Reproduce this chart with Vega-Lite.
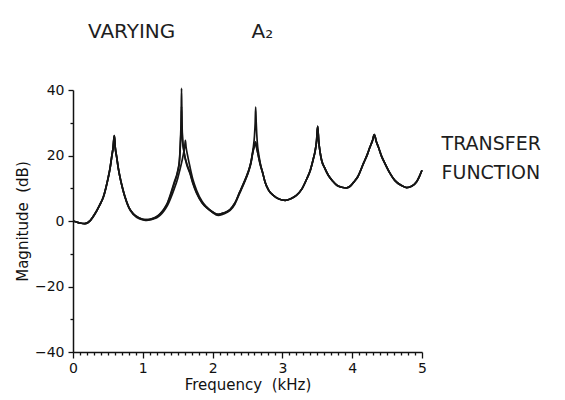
{
  "$schema": "https://vega.github.io/schema/vega-lite/v6.json",
  "autosize": "none",
  "width": 349,
  "height": 262,
  "padding": {"left": 73, "top": 90, "right": 143, "bottom": 48},
  "background": "white",
  "title": {
    "text": "VARYING\u00a0\u00a0\u00a0\u00a0\u00a0\u00a0\u00a0\u00a0\u00a0\u00a0\u00a0\u00a0A₂",
    "anchor": "start",
    "frame": "group",
    "font": "DejaVu Sans",
    "fontSize": 20,
    "fontWeight": "normal",
    "color": "#1e1e1e",
    "dx": 15,
    "offset": 41
  },
  "config": {
    "view": {"stroke": null},
    "axis": {
      "grid": false,
      "domainColor": "#111",
      "domainWidth": 1.5,
      "tickColor": "#111",
      "tickWidth": 1.3,
      "labelColor": "#111",
      "titleColor": "#111",
      "labelFont": "DejaVu Sans",
      "titleFont": "DejaVu Sans",
      "labelFontSize": 14,
      "titleFontSize": 15,
      "titleFontWeight": "normal"
    }
  },
  "resolve": {"axis": {"x": "independent", "y": "independent"}},
  "layer": [
    {
      "data": {
        "values": [
          {"curve": "a", "freq": 0, "mag": 0},
          {"curve": "a", "freq": 0.05, "mag": -0.3},
          {"curve": "a", "freq": 0.1, "mag": -0.6},
          {"curve": "a", "freq": 0.17, "mag": -0.8},
          {"curve": "a", "freq": 0.25, "mag": 0.2},
          {"curve": "a", "freq": 0.315, "mag": 2.2},
          {"curve": "a", "freq": 0.38, "mag": 4.8},
          {"curve": "a", "freq": 0.435, "mag": 7.3},
          {"curve": "a", "freq": 0.47, "mag": 10},
          {"curve": "a", "freq": 0.506, "mag": 13.4},
          {"curve": "a", "freq": 0.53, "mag": 16},
          {"curve": "a", "freq": 0.554, "mag": 19.5},
          {"curve": "a", "freq": 0.575, "mag": 22.5},
          {"curve": "a", "freq": 0.592, "mag": 26.1},
          {"curve": "a", "freq": 0.605, "mag": 22.5},
          {"curve": "a", "freq": 0.626, "mag": 19.5},
          {"curve": "a", "freq": 0.65, "mag": 16},
          {"curve": "a", "freq": 0.673, "mag": 13.4},
          {"curve": "a", "freq": 0.71, "mag": 10},
          {"curve": "a", "freq": 0.745, "mag": 7.3},
          {"curve": "a", "freq": 0.8, "mag": 4.2},
          {"curve": "a", "freq": 0.864, "mag": 2.2},
          {"curve": "a", "freq": 0.95, "mag": 0.9},
          {"curve": "a", "freq": 1.0, "mag": 0.5},
          {"curve": "a", "freq": 1.056, "mag": 0.4},
          {"curve": "a", "freq": 1.1, "mag": 0.5},
          {"curve": "a", "freq": 1.15, "mag": 0.8},
          {"curve": "a", "freq": 1.2, "mag": 1.4},
          {"curve": "a", "freq": 1.246, "mag": 2.2},
          {"curve": "a", "freq": 1.3, "mag": 3.6},
          {"curve": "a", "freq": 1.35, "mag": 5.4},
          {"curve": "a", "freq": 1.4, "mag": 8.4},
          {"curve": "a", "freq": 1.45, "mag": 11.8},
          {"curve": "a", "freq": 1.5, "mag": 15.3},
          {"curve": "a", "freq": 1.525, "mag": 18.5},
          {"curve": "a", "freq": 1.54, "mag": 25},
          {"curve": "a", "freq": 1.55, "mag": 32},
          {"curve": "a", "freq": 1.555, "mag": 40.5},
          {"curve": "a", "freq": 1.56, "mag": 32},
          {"curve": "a", "freq": 1.57, "mag": 25},
          {"curve": "a", "freq": 1.585, "mag": 22},
          {"curve": "a", "freq": 1.6, "mag": 20},
          {"curve": "a", "freq": 1.63, "mag": 17.5},
          {"curve": "a", "freq": 1.676, "mag": 14.8},
          {"curve": "a", "freq": 1.72, "mag": 11.5},
          {"curve": "a", "freq": 1.77, "mag": 8.7},
          {"curve": "a", "freq": 1.85, "mag": 5.6},
          {"curve": "a", "freq": 1.92, "mag": 4},
          {"curve": "a", "freq": 2.0, "mag": 2.8},
          {"curve": "a", "freq": 2.08, "mag": 2.0},
          {"curve": "a", "freq": 2.15, "mag": 2.4},
          {"curve": "a", "freq": 2.25, "mag": 3.5},
          {"curve": "a", "freq": 2.32, "mag": 5.5},
          {"curve": "a", "freq": 2.39, "mag": 8.9},
          {"curve": "a", "freq": 2.45, "mag": 11.8},
          {"curve": "a", "freq": 2.51, "mag": 15},
          {"curve": "a", "freq": 2.55, "mag": 18},
          {"curve": "a", "freq": 2.58, "mag": 21.5},
          {"curve": "a", "freq": 2.6, "mag": 23},
          {"curve": "a", "freq": 2.617, "mag": 24},
          {"curve": "a", "freq": 2.63, "mag": 22.5},
          {"curve": "a", "freq": 2.65, "mag": 20.5},
          {"curve": "a", "freq": 2.68, "mag": 17.5},
          {"curve": "a", "freq": 2.72, "mag": 14.5},
          {"curve": "a", "freq": 2.75, "mag": 12},
          {"curve": "a", "freq": 2.8, "mag": 9.5},
          {"curve": "a", "freq": 2.87, "mag": 7.8},
          {"curve": "a", "freq": 2.95, "mag": 6.7},
          {"curve": "a", "freq": 3.04, "mag": 6.3},
          {"curve": "a", "freq": 3.12, "mag": 6.8},
          {"curve": "a", "freq": 3.2, "mag": 7.8},
          {"curve": "a", "freq": 3.28, "mag": 9.8},
          {"curve": "a", "freq": 3.35, "mag": 12.9},
          {"curve": "a", "freq": 3.4, "mag": 15.5},
          {"curve": "a", "freq": 3.44, "mag": 18.7},
          {"curve": "a", "freq": 3.47, "mag": 21.5},
          {"curve": "a", "freq": 3.49, "mag": 24.5},
          {"curve": "a", "freq": 3.505, "mag": 28.9},
          {"curve": "a", "freq": 3.52, "mag": 24.5},
          {"curve": "a", "freq": 3.54, "mag": 21},
          {"curve": "a", "freq": 3.56, "mag": 18.7},
          {"curve": "a", "freq": 3.61, "mag": 16},
          {"curve": "a", "freq": 3.66, "mag": 13.9},
          {"curve": "a", "freq": 3.72, "mag": 12.2},
          {"curve": "a", "freq": 3.78, "mag": 10.9},
          {"curve": "a", "freq": 3.85, "mag": 10.3},
          {"curve": "a", "freq": 3.92, "mag": 10.1},
          {"curve": "a", "freq": 3.97, "mag": 10.6},
          {"curve": "a", "freq": 4.02, "mag": 11.8},
          {"curve": "a", "freq": 4.08, "mag": 13.5},
          {"curve": "a", "freq": 4.16, "mag": 17.5},
          {"curve": "a", "freq": 4.22, "mag": 20.5},
          {"curve": "a", "freq": 4.255, "mag": 22.6},
          {"curve": "a", "freq": 4.29, "mag": 24.5},
          {"curve": "a", "freq": 4.317, "mag": 26.4},
          {"curve": "a", "freq": 4.345, "mag": 24.3},
          {"curve": "a", "freq": 4.375, "mag": 22.6},
          {"curve": "a", "freq": 4.42, "mag": 19.8},
          {"curve": "a", "freq": 4.47, "mag": 17.5},
          {"curve": "a", "freq": 4.54, "mag": 14.6},
          {"curve": "a", "freq": 4.61, "mag": 12.4},
          {"curve": "a", "freq": 4.7, "mag": 10.9},
          {"curve": "a", "freq": 4.78, "mag": 10.2},
          {"curve": "a", "freq": 4.85, "mag": 10.6},
          {"curve": "a", "freq": 4.92, "mag": 11.9},
          {"curve": "a", "freq": 4.96, "mag": 13.5},
          {"curve": "a", "freq": 5.0, "mag": 15.5},

          {"curve": "b", "freq": 0, "mag": 0},
          {"curve": "b", "freq": 0.05, "mag": -0.3},
          {"curve": "b", "freq": 0.1, "mag": -0.6},
          {"curve": "b", "freq": 0.17, "mag": -0.8},
          {"curve": "b", "freq": 0.25, "mag": 0.2},
          {"curve": "b", "freq": 0.315, "mag": 2.2},
          {"curve": "b", "freq": 0.38, "mag": 4.8},
          {"curve": "b", "freq": 0.435, "mag": 7.3},
          {"curve": "b", "freq": 0.47, "mag": 10},
          {"curve": "b", "freq": 0.506, "mag": 13.4},
          {"curve": "b", "freq": 0.53, "mag": 16},
          {"curve": "b", "freq": 0.554, "mag": 19.5},
          {"curve": "b", "freq": 0.575, "mag": 22.5},
          {"curve": "b", "freq": 0.592, "mag": 26.1},
          {"curve": "b", "freq": 0.605, "mag": 22.5},
          {"curve": "b", "freq": 0.626, "mag": 19.5},
          {"curve": "b", "freq": 0.65, "mag": 16},
          {"curve": "b", "freq": 0.673, "mag": 13.4},
          {"curve": "b", "freq": 0.71, "mag": 10},
          {"curve": "b", "freq": 0.745, "mag": 7.3},
          {"curve": "b", "freq": 0.8, "mag": 4.2},
          {"curve": "b", "freq": 0.864, "mag": 2.2},
          {"curve": "b", "freq": 0.95, "mag": 0.9},
          {"curve": "b", "freq": 1.0, "mag": 0.5},
          {"curve": "b", "freq": 1.056, "mag": 0.4},
          {"curve": "b", "freq": 1.1, "mag": 0.5},
          {"curve": "b", "freq": 1.15, "mag": 0.8},
          {"curve": "b", "freq": 1.2, "mag": 1.3},
          {"curve": "b", "freq": 1.246, "mag": 2.1},
          {"curve": "b", "freq": 1.3, "mag": 3.4},
          {"curve": "b", "freq": 1.35, "mag": 5.2},
          {"curve": "b", "freq": 1.4, "mag": 8.0},
          {"curve": "b", "freq": 1.45, "mag": 11.4},
          {"curve": "b", "freq": 1.5, "mag": 15.0},
          {"curve": "b", "freq": 1.525, "mag": 18.3},
          {"curve": "b", "freq": 1.54, "mag": 24},
          {"curve": "b", "freq": 1.55, "mag": 29.5},
          {"curve": "b", "freq": 1.555, "mag": 35},
          {"curve": "b", "freq": 1.56, "mag": 29.5},
          {"curve": "b", "freq": 1.57, "mag": 24.5},
          {"curve": "b", "freq": 1.585, "mag": 21.8},
          {"curve": "b", "freq": 1.6, "mag": 19.8},
          {"curve": "b", "freq": 1.63, "mag": 17.2},
          {"curve": "b", "freq": 1.676, "mag": 14.5},
          {"curve": "b", "freq": 1.72, "mag": 11.3},
          {"curve": "b", "freq": 1.77, "mag": 8.5},
          {"curve": "b", "freq": 1.85, "mag": 5.5},
          {"curve": "b", "freq": 1.92, "mag": 3.9},
          {"curve": "b", "freq": 2.0, "mag": 2.7},
          {"curve": "b", "freq": 2.08, "mag": 2.0},
          {"curve": "b", "freq": 2.15, "mag": 2.4},
          {"curve": "b", "freq": 2.25, "mag": 3.5},
          {"curve": "b", "freq": 2.32, "mag": 5.5},
          {"curve": "b", "freq": 2.39, "mag": 8.9},
          {"curve": "b", "freq": 2.45, "mag": 11.8},
          {"curve": "b", "freq": 2.51, "mag": 15},
          {"curve": "b", "freq": 2.55, "mag": 18},
          {"curve": "b", "freq": 2.58, "mag": 22},
          {"curve": "b", "freq": 2.6, "mag": 26},
          {"curve": "b", "freq": 2.61, "mag": 30},
          {"curve": "b", "freq": 2.617, "mag": 34.8},
          {"curve": "b", "freq": 2.625, "mag": 30},
          {"curve": "b", "freq": 2.64, "mag": 24},
          {"curve": "b", "freq": 2.66, "mag": 20.5},
          {"curve": "b", "freq": 2.68, "mag": 18},
          {"curve": "b", "freq": 2.72, "mag": 14.5},
          {"curve": "b", "freq": 2.75, "mag": 12},
          {"curve": "b", "freq": 2.8, "mag": 9.5},
          {"curve": "b", "freq": 2.87, "mag": 7.8},
          {"curve": "b", "freq": 2.95, "mag": 6.7},
          {"curve": "b", "freq": 3.04, "mag": 6.3},
          {"curve": "b", "freq": 3.12, "mag": 6.8},
          {"curve": "b", "freq": 3.2, "mag": 7.8},
          {"curve": "b", "freq": 3.28, "mag": 9.8},
          {"curve": "b", "freq": 3.35, "mag": 12.9},
          {"curve": "b", "freq": 3.4, "mag": 15.5},
          {"curve": "b", "freq": 3.44, "mag": 18.7},
          {"curve": "b", "freq": 3.47, "mag": 21.5},
          {"curve": "b", "freq": 3.49, "mag": 24.5},
          {"curve": "b", "freq": 3.505, "mag": 28.9},
          {"curve": "b", "freq": 3.52, "mag": 24.5},
          {"curve": "b", "freq": 3.54, "mag": 21},
          {"curve": "b", "freq": 3.56, "mag": 18.7},
          {"curve": "b", "freq": 3.61, "mag": 16},
          {"curve": "b", "freq": 3.66, "mag": 13.9},
          {"curve": "b", "freq": 3.72, "mag": 12.2},
          {"curve": "b", "freq": 3.78, "mag": 10.9},
          {"curve": "b", "freq": 3.85, "mag": 10.3},
          {"curve": "b", "freq": 3.92, "mag": 10.1},
          {"curve": "b", "freq": 3.97, "mag": 10.6},
          {"curve": "b", "freq": 4.02, "mag": 11.8},
          {"curve": "b", "freq": 4.08, "mag": 13.5},
          {"curve": "b", "freq": 4.16, "mag": 17.5},
          {"curve": "b", "freq": 4.22, "mag": 20.5},
          {"curve": "b", "freq": 4.255, "mag": 22.6},
          {"curve": "b", "freq": 4.29, "mag": 24.5},
          {"curve": "b", "freq": 4.317, "mag": 26.4},
          {"curve": "b", "freq": 4.345, "mag": 24.3},
          {"curve": "b", "freq": 4.375, "mag": 22.6},
          {"curve": "b", "freq": 4.42, "mag": 19.8},
          {"curve": "b", "freq": 4.47, "mag": 17.5},
          {"curve": "b", "freq": 4.54, "mag": 14.6},
          {"curve": "b", "freq": 4.61, "mag": 12.4},
          {"curve": "b", "freq": 4.7, "mag": 10.9},
          {"curve": "b", "freq": 4.78, "mag": 10.2},
          {"curve": "b", "freq": 4.85, "mag": 10.6},
          {"curve": "b", "freq": 4.92, "mag": 11.9},
          {"curve": "b", "freq": 4.96, "mag": 13.5},
          {"curve": "b", "freq": 5.0, "mag": 15.5},

          {"curve": "c", "freq": 0, "mag": 0},
          {"curve": "c", "freq": 0.05, "mag": -0.3},
          {"curve": "c", "freq": 0.1, "mag": -0.6},
          {"curve": "c", "freq": 0.17, "mag": -0.8},
          {"curve": "c", "freq": 0.25, "mag": 0.2},
          {"curve": "c", "freq": 0.315, "mag": 2.2},
          {"curve": "c", "freq": 0.38, "mag": 4.8},
          {"curve": "c", "freq": 0.435, "mag": 7.3},
          {"curve": "c", "freq": 0.47, "mag": 10},
          {"curve": "c", "freq": 0.506, "mag": 13.4},
          {"curve": "c", "freq": 0.53, "mag": 16},
          {"curve": "c", "freq": 0.554, "mag": 19.5},
          {"curve": "c", "freq": 0.575, "mag": 22.5},
          {"curve": "c", "freq": 0.592, "mag": 26.1},
          {"curve": "c", "freq": 0.605, "mag": 22.5},
          {"curve": "c", "freq": 0.626, "mag": 19.5},
          {"curve": "c", "freq": 0.65, "mag": 16},
          {"curve": "c", "freq": 0.673, "mag": 13.4},
          {"curve": "c", "freq": 0.71, "mag": 10},
          {"curve": "c", "freq": 0.745, "mag": 7.3},
          {"curve": "c", "freq": 0.8, "mag": 4.0},
          {"curve": "c", "freq": 0.864, "mag": 2.0},
          {"curve": "c", "freq": 0.95, "mag": 0.7},
          {"curve": "c", "freq": 1.0, "mag": 0.4},
          {"curve": "c", "freq": 1.056, "mag": 0.2},
          {"curve": "c", "freq": 1.1, "mag": 0.3},
          {"curve": "c", "freq": 1.15, "mag": 0.6},
          {"curve": "c", "freq": 1.2, "mag": 1.0},
          {"curve": "c", "freq": 1.25, "mag": 1.8},
          {"curve": "c", "freq": 1.3, "mag": 3.0},
          {"curve": "c", "freq": 1.35, "mag": 4.6},
          {"curve": "c", "freq": 1.4, "mag": 7.0},
          {"curve": "c", "freq": 1.45, "mag": 9.8},
          {"curve": "c", "freq": 1.5, "mag": 13.0},
          {"curve": "c", "freq": 1.53, "mag": 15.5},
          {"curve": "c", "freq": 1.56, "mag": 18.2},
          {"curve": "c", "freq": 1.585, "mag": 20.8},
          {"curve": "c", "freq": 1.6, "mag": 22.6},
          {"curve": "c", "freq": 1.61, "mag": 24.6},
          {"curve": "c", "freq": 1.62, "mag": 22.6},
          {"curve": "c", "freq": 1.64, "mag": 20.2},
          {"curve": "c", "freq": 1.676, "mag": 16.5},
          {"curve": "c", "freq": 1.72, "mag": 12.5},
          {"curve": "c", "freq": 1.77, "mag": 9.4},
          {"curve": "c", "freq": 1.85, "mag": 6.0},
          {"curve": "c", "freq": 1.915, "mag": 4.3},
          {"curve": "c", "freq": 2.0, "mag": 2.6},
          {"curve": "c", "freq": 2.08, "mag": 1.7},
          {"curve": "c", "freq": 2.15, "mag": 2.1},
          {"curve": "c", "freq": 2.25, "mag": 3.2},
          {"curve": "c", "freq": 2.32, "mag": 5.2},
          {"curve": "c", "freq": 2.39, "mag": 8.6},
          {"curve": "c", "freq": 2.45, "mag": 11.5},
          {"curve": "c", "freq": 2.51, "mag": 14.7},
          {"curve": "c", "freq": 2.55, "mag": 17.7},
          {"curve": "c", "freq": 2.58, "mag": 21.3},
          {"curve": "c", "freq": 2.6, "mag": 23},
          {"curve": "c", "freq": 2.613, "mag": 24.2},
          {"curve": "c", "freq": 2.63, "mag": 22.5},
          {"curve": "c", "freq": 2.65, "mag": 20.5},
          {"curve": "c", "freq": 2.68, "mag": 17.5},
          {"curve": "c", "freq": 2.72, "mag": 14.5},
          {"curve": "c", "freq": 2.75, "mag": 12},
          {"curve": "c", "freq": 2.8, "mag": 9.5},
          {"curve": "c", "freq": 2.87, "mag": 7.8},
          {"curve": "c", "freq": 2.95, "mag": 6.7},
          {"curve": "c", "freq": 3.04, "mag": 6.3},
          {"curve": "c", "freq": 3.12, "mag": 6.8},
          {"curve": "c", "freq": 3.2, "mag": 7.8},
          {"curve": "c", "freq": 3.28, "mag": 9.8},
          {"curve": "c", "freq": 3.35, "mag": 12.9},
          {"curve": "c", "freq": 3.4, "mag": 15.5},
          {"curve": "c", "freq": 3.44, "mag": 18.7},
          {"curve": "c", "freq": 3.47, "mag": 21.5},
          {"curve": "c", "freq": 3.49, "mag": 24.5},
          {"curve": "c", "freq": 3.505, "mag": 28.9},
          {"curve": "c", "freq": 3.52, "mag": 24.5},
          {"curve": "c", "freq": 3.54, "mag": 21},
          {"curve": "c", "freq": 3.56, "mag": 18.7},
          {"curve": "c", "freq": 3.61, "mag": 16},
          {"curve": "c", "freq": 3.66, "mag": 13.9},
          {"curve": "c", "freq": 3.72, "mag": 12.2},
          {"curve": "c", "freq": 3.78, "mag": 10.9},
          {"curve": "c", "freq": 3.85, "mag": 10.3},
          {"curve": "c", "freq": 3.92, "mag": 10.1},
          {"curve": "c", "freq": 3.97, "mag": 10.6},
          {"curve": "c", "freq": 4.02, "mag": 11.8},
          {"curve": "c", "freq": 4.08, "mag": 13.5},
          {"curve": "c", "freq": 4.16, "mag": 17.5},
          {"curve": "c", "freq": 4.22, "mag": 20.5},
          {"curve": "c", "freq": 4.255, "mag": 22.6},
          {"curve": "c", "freq": 4.29, "mag": 24.5},
          {"curve": "c", "freq": 4.317, "mag": 26.4},
          {"curve": "c", "freq": 4.345, "mag": 24.3},
          {"curve": "c", "freq": 4.375, "mag": 22.6},
          {"curve": "c", "freq": 4.42, "mag": 19.8},
          {"curve": "c", "freq": 4.47, "mag": 17.5},
          {"curve": "c", "freq": 4.54, "mag": 14.6},
          {"curve": "c", "freq": 4.61, "mag": 12.4},
          {"curve": "c", "freq": 4.7, "mag": 10.9},
          {"curve": "c", "freq": 4.78, "mag": 10.2},
          {"curve": "c", "freq": 4.85, "mag": 10.6},
          {"curve": "c", "freq": 4.92, "mag": 11.9},
          {"curve": "c", "freq": 4.96, "mag": 13.5},
          {"curve": "c", "freq": 5.0, "mag": 15.5}
        ]
      },
      "mark": {"type": "line", "color": "#151515", "strokeWidth": 1.7, "strokeJoin": "round", "interpolate": "monotone"},
      "encoding": {
        "x": {
          "field": "freq",
          "type": "quantitative",
          "scale": {"domain": [0, 5], "nice": false},
          "axis": {
            "orient": "bottom",
            "title": "Frequency\u00a0\u00a0(kHz)",
            "values": [0, 1, 2, 3, 4, 5],
            "tickSize": 6,
            "labelPadding": 3,
            "labelFlush": false,
            "labelOverlap": false,
            "titlePadding": 2
          }
        },
        "y": {
          "field": "mag",
          "type": "quantitative",
          "scale": {"domain": [-40, 40], "nice": false},
          "axis": {
            "orient": "left",
            "title": "Magnitude\u00a0\u00a0(dB)",
            "values": [-40, -20, 0, 20, 40],
            "tickSize": 5,
            "labelPadding": 4,
            "labelFlush": false,
            "labelOverlap": false,
            "titlePadding": 4
          }
        },
        "detail": {"field": "curve"}
      }
    },
    {
      "data": {"values": [{}]},
      "mark": {
        "type": "text",
        "align": "left",
        "baseline": "middle",
        "font": "DejaVu Sans",
        "fontSize": 19,
        "lineHeight": 29,
        "color": "#1e1e1e"
      },
      "encoding": {
        "x": {
          "datum": 5.28,
          "type": "quantitative",
          "axis": {
            "orient": "bottom",
            "values": [0.1, 0.2, 0.3, 0.4, 0.5, 0.6, 0.7, 0.8, 0.9, 1.1, 1.2, 1.3, 1.4, 1.5, 1.6, 1.7, 1.8, 1.9, 2.1, 2.2, 2.3, 2.4, 2.5, 2.6, 2.7, 2.8, 2.9, 3.1, 3.2, 3.3, 3.4, 3.5, 3.6, 3.7, 3.8, 3.9, 4.1, 4.2, 4.3, 4.4, 4.5, 4.6, 4.7, 4.8, 4.9],
            "tickSize": 3,
            "labels": false,
            "domain": false,
            "title": null
          }
        },
        "y": {
          "datum": 23.6,
          "type": "quantitative",
          "axis": {
            "orient": "left",
            "values": [-30, -10, 10, 30],
            "tickSize": 3,
            "labels": false,
            "domain": false,
            "title": null
          }
        },
        "text": {"value": ["TRANSFER", "FUNCTION"]}
      }
    }
  ]
}
